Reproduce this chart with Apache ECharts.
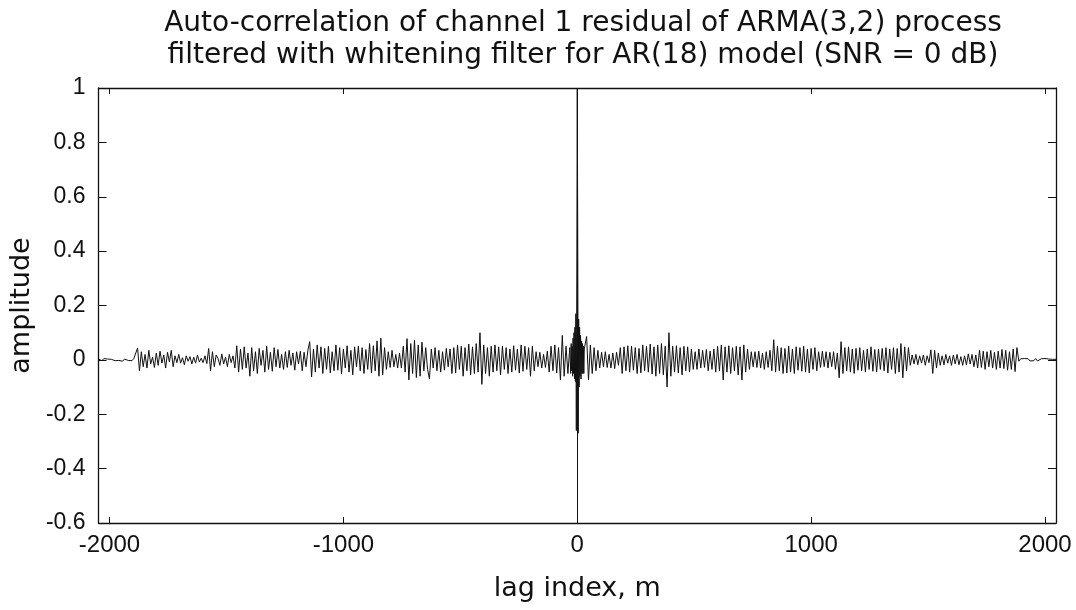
<!DOCTYPE html>
<html>
<head>
<meta charset="utf-8">
<script src="https://cdn.jsdelivr.net/npm/echarts@6/dist/echarts.min.js"></script>
<style>
html,body{margin:0;padding:0;background:#fff;}
#chart{width:1076px;height:610px;}
</style>
</head>
<body>
<div id="chart"></div>
<script>
// ---------------- data ----------------
const titleText = 'Auto-correlation of channel 1 residual of ARMA(3,2) process\nfiltered with whitening filter for AR(18) model (SNR = 0 dB)';
const xName = 'lag index, m';
const yName = 'amplitude';
const xTicks = [-2000, -1000, 0, 1000, 2000];
const xMin = -2047, xMax = 2047;
const yMin = -0.6, yMax = 1, yStep = 0.2;

const lagStep = 8;
// left side: value i is at lag -2040 + 8*i
const leftStartLag = -2040;
const leftValues = [
  .004,-.003,.005,-.002,.003,-.004,.002,.005,-.003,.004,
  -.002,.004,-.005,.003,.006,-.002,.004,-.003,.005,.002,
  .044,-.040,.030,-.025,.020,-.030,.035,-.015,.010,-.028,
  .025,-.020,.032,-.012,.018,-.030,.028,-.008,.035,-.025,
  .015,-.010,.020,-.012,.008,-.018,.015,-.005,.012,-.015,
  .010,-.012,.018,-.008,.006,-.010,.015,-.014,.042,-.040,
  .030,-.025,.018,.005,-.020,.022,-.015,.010,-.025,.020,
  -.010,.015,-.030,.052,-.045,.040,-.035,.048,-.030,.025,
  -.060,.045,-.040,.030,-.050,.042,-.020,.035,-.045,.050,
  -.035,.028,-.042,.045,-.025,.038,-.030,.020,-.035,.030,
  -.028,.035,-.020,.025,-.038,.030,-.015,.032,-.040,.028,
  -.025,.035,.067,-.063,.040,-.045,.055,-.030,.048,-.050,
  .042,-.035,.050,-.048,.030,-.040,.055,-.038,.045,-.052,
  .040,-.030,.052,-.045,.035,-.055,.048,-.025,.050,-.040,
  .045,-.050,.038,-.035,.060,-.048,.052,-.040,.070,-.060,
  .080,-.055,.045,-.035,.030,-.028,.035,-.025,.020,-.030,
  .025,-.030,.050,-.045,.078,-.074,.060,-.050,.072,-.065,
  .055,-.060,.065,-.040,.045,-.035,-.070,.040,-.030,.045,
  -.040,.035,-.045,.030,-.038,.042,-.025,.040,-.050,.045,
  -.048,.055,-.035,.050,-.060,.045,-.040,.058,-.055,.048,
  -.050,.060,-.045,.100,-.090,.055,-.050,.045,-.060,.050,
  -.045,.055,-.040,.048,-.055,.050,-.035,.045,-.050,.040,
  -.045,.052,-.038,.040,-.048,.055,-.042,.050,-.035,.045,
  -.060,.050,-.040,.030,-.025,.028,-.030,.020,-.028,.032,
  -.045,.050,-.040,.055,-.048,.045,-.074,.090,-.060,.050,
  -.050,.045
];
// central lobe
const centerLags = [-30,-28,-26,-24,-22,-20,-18,-16,-14,-12,-10,-8,-6,-4,-2,0,2,4,6,8,10,12,14,16,18,20,22,24,26,28,30];
const centerValues = [.04,-.05,.06,-.04,.05,-.06,.08,-.05,.10,-.07,.12,-.08,.17,-.26,.33,1.0,.46,-.27,.15,-.10,.12,-.06,.09,-.07,.07,-.05,.06,-.05,.05,-.05,.04];
// right side: value i is at lag 32 + 8*i
const rightStartLag = 32;
const rightValues = [
  .050,.086,-.074,.055,-.050,.045,-.040,.035,-.030,.028,
  -.025,.030,-.028,.020,-.030,.025,-.032,.028,-.020,.045,
  -.050,.048,-.040,.052,-.045,.050,-.038,.045,-.050,.042,
  -.048,.055,-.040,.050,-.045,.058,-.052,.048,-.060,.055,
  -.050,.060,-.055,.050,-.100,.100,-.060,.050,-.045,.052,
  -.048,.045,-.055,.050,-.040,.048,-.045,.040,-.035,.030,
  -.035,.040,-.030,.035,-.028,.038,-.040,.032,-.035,.040,
  -.045,.050,-.040,.055,-.074,.048,-.045,.052,-.050,.045,
  -.040,.050,-.055,.048,-.074,.055,-.045,.040,-.035,.030,
  -.025,.030,-.028,.032,-.030,.025,-.035,.030,-.028,.035,
  -.040,.074,-.045,.050,-.040,.045,-.050,.042,-.048,.050,
  -.045,.040,-.050,.048,-.038,.045,-.042,.050,-.045,.040,
  -.048,.042,-.035,.045,-.040,.030,-.028,.032,-.025,.030,
  -.030,.028,-.025,.030,-.035,.025,-.066,.067,-.050,.045,
  -.040,.048,-.045,.040,-.050,.042,-.038,.045,-.040,.035,
  -.045,.040,-.035,.048,-.042,.038,-.045,.040,-.035,.042,
  -.040,.045,-.048,.040,-.035,.045,-.050,.042,-.045,.060,
  -.066,.048,-.040,.045,-.020,.018,-.015,.020,-.018,.015,
  -.012,.018,-.020,.015,-.010,.037,-.050,.035,-.030,.025,
  -.020,.015,-.018,.020,-.012,.015,-.020,.018,-.015,.020,
  -.018,.012,-.020,.015,-.018,.022,-.015,.020,-.025,.018,
  -.030,.035,-.028,.032,-.035,.030,-.025,.035,-.030,.028,
  -.035,.032,-.030,.038,-.032,.035,-.038,.030,-.035,.040,
  -.043,.045,-.005,.004,-.003,.005,-.002,.004,-.004,.003,
  -.003,.005,-.004,.002,.004,-.003,.005,-.002,.003,-.004,
  .002,-.003
];
const edgeLags = [-2047, 2047];
const edgeValues = [.003, .002];

// ---------------- build series ----------------
const pts = [];
pts.push([edgeLags[0], edgeValues[0]]);
leftValues.forEach((v, i) => pts.push([leftStartLag + lagStep * i, v]));
centerLags.forEach((l, i) => pts.push([l, centerValues[i]]));
rightValues.forEach((v, i) => pts.push([rightStartLag + lagStep * i, v]));
pts.push([edgeLags[1], edgeValues[1]]);

const ink = '#111';
const tickFont = 'Liberation Sans';
const nameFont = 'DejaVu Sans';
const plainNum = v => String(Math.round(v * 1000) / 1000);

const chart = echarts.init(document.getElementById('chart'), null, {renderer: 'canvas'});
chart.setOption({
  animation: false,
  backgroundColor: '#fff',
  title: {
    text: titleText,
    left: 578,
    textAlign: 'center',
    top: 3,
    textStyle: {fontFamily: nameFont, fontSize: 28, fontWeight: 'normal', color: ink, lineHeight: 32}
  },
  grid: {left: 94, right: 20, top: 88, bottom: 87, show: false},
  xAxis: [{
    type: 'value', min: xMin, max: xMax, position: 'bottom',
    name: xName, nameLocation: 'middle', nameGap: 52,
    nameTextStyle: {fontFamily: nameFont, fontSize: 27, color: ink},
    axisLine: {show: true, onZero: false, lineStyle: {color: ink, width: 1.3}},
    axisTick: {show: true, inside: true, length: 6, customValues: xTicks, lineStyle: {color: ink}},
    axisLabel: {show: true, customValues: xTicks, margin: 10, fontFamily: tickFont, fontSize: 24, color: ink, formatter: plainNum},
    splitLine: {show: false}
  }, {
    type: 'value', min: xMin, max: xMax, position: 'top',
    axisLine: {show: true, onZero: false, lineStyle: {color: ink, width: 1.3}},
    axisTick: {show: true, inside: true, length: 6, customValues: xTicks, lineStyle: {color: ink}},
    axisLabel: {show: false},
    splitLine: {show: false}
  }],
  yAxis: [{
    type: 'value', min: yMin, max: yMax, interval: yStep, position: 'left',
    name: yName, nameLocation: 'middle', nameGap: 56, nameRotate: 90,
    nameTextStyle: {fontFamily: nameFont, fontSize: 27, color: ink},
    axisLine: {show: true, onZero: false, lineStyle: {color: ink, width: 1.3}},
    axisTick: {show: true, inside: true, length: 8, lineStyle: {color: ink}},
    axisLabel: {show: true, margin: 13, fontFamily: tickFont, fontSize: 23, color: ink, formatter: plainNum},
    splitLine: {show: false}
  }, {
    type: 'value', min: yMin, max: yMax, interval: yStep, position: 'right',
    axisLine: {show: true, onZero: false, lineStyle: {color: ink, width: 1.3}},
    axisTick: {show: true, inside: true, length: 8, lineStyle: {color: ink}},
    axisLabel: {show: false},
    splitLine: {show: false}
  }],
  series: [{
    type: 'line',
    xAxisIndex: 0, yAxisIndex: 0,
    data: pts,
    showSymbol: false,
    symbol: 'none',
    lineStyle: {color: ink, width: 1},
    markLine: {
      silent: true, symbol: ['none', 'none'],
      label: {show: false},
      lineStyle: {color: ink, width: 1, type: 'solid'},
      data: [{xAxis: 0}]
    }
  }]
});
</script>
</body>
</html>
